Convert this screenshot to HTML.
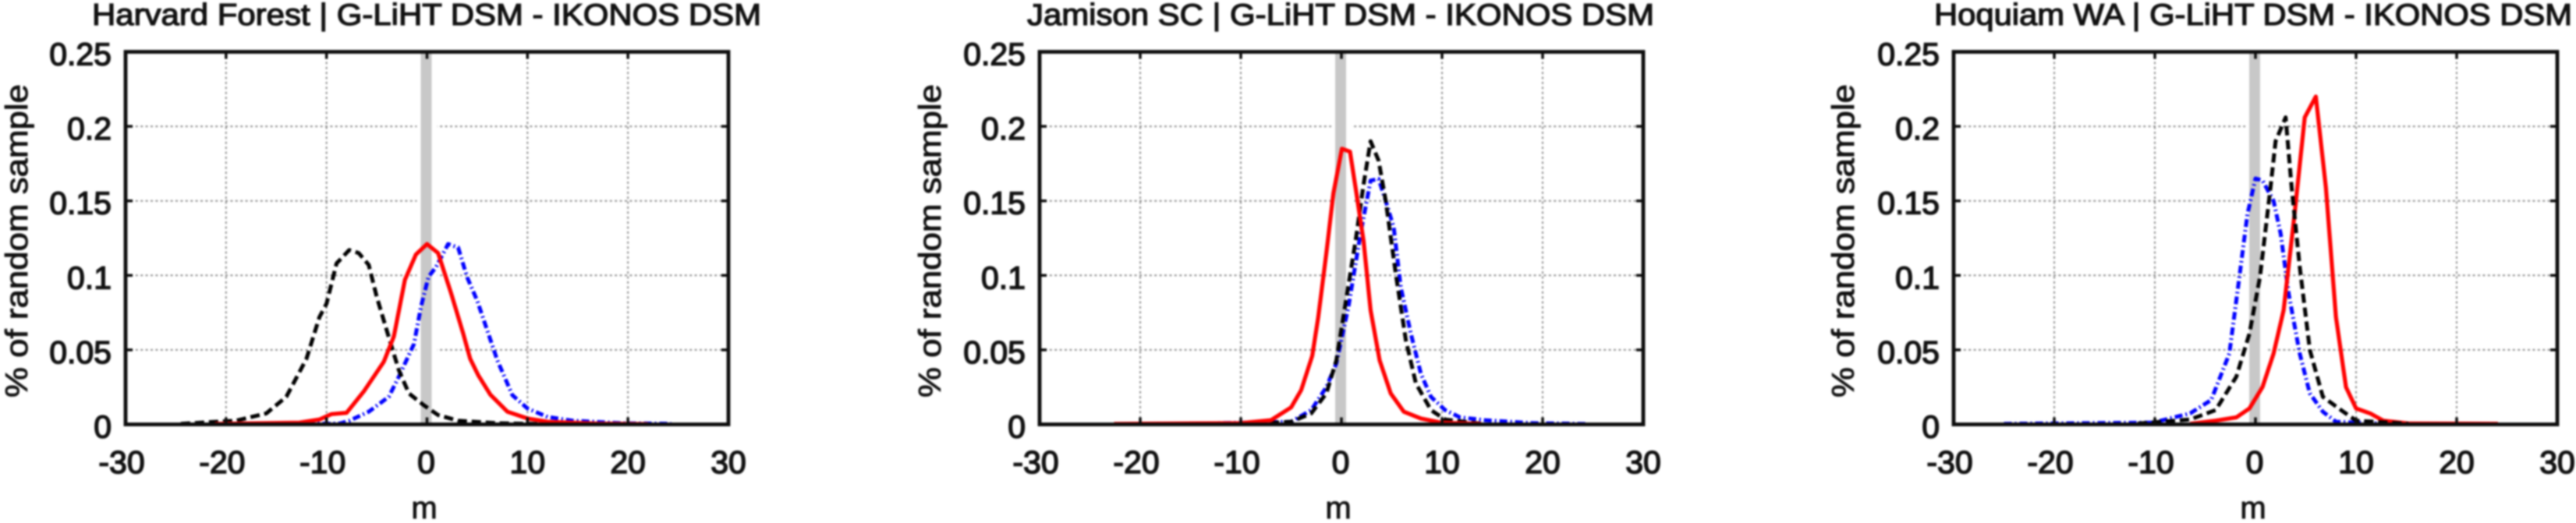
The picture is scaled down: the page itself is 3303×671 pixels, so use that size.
<!DOCTYPE html>
<html lang="en">
<head>
<meta charset="utf-8">
<title>G-LiHT DSM - IKONOS DSM difference histograms</title>
<style>
html,body{margin:0;padding:0;background:#fff;width:3303px;height:671px;overflow:hidden}
svg{display:block;filter:blur(1px)}
text{font-family:"Liberation Sans",sans-serif;fill:#111}
.title{font-size:39px;stroke:#111;stroke-width:1.3px}
.tick{font-size:41px;stroke:#111;stroke-width:1.5px}
.axis-label{font-size:40px;stroke:#111;stroke-width:.9px;white-space:pre}
</style>
</head>
<body>
<svg id="chart" xmlns="http://www.w3.org/2000/svg" width="3303" height="671" viewBox="0 0 3303 671">
  <rect x="0" y="0" width="3303" height="671" fill="#fff"/>

  <g id="panel-harvard">
    <text class="title" x="118" y="32" textLength="858" lengthAdjust="spacingAndGlyphs">Harvard Forest | G-LiHT DSM - IKONOS DSM</text>
    <text class="axis-label" transform="translate(35,510) rotate(-90)" textLength="402" lengthAdjust="spacingAndGlyphs">% of random sample</text>
    <text class="axis-label" x="544" y="665" text-anchor="middle">m</text>
  </g>

  <g id="panel-jamison">
    <text class="title" x="1317" y="32" textLength="804" lengthAdjust="spacingAndGlyphs">Jamison SC | G-LiHT DSM - IKONOS DSM</text>
    <text class="axis-label" transform="translate(1206,510) rotate(-90)" textLength="402" lengthAdjust="spacingAndGlyphs">% of random sample</text>
    <text class="axis-label" x="1716" y="665" text-anchor="middle">m</text>
  </g>

  <g id="panel-hoquiam">
    <text class="title" x="2480" y="32" textLength="818" lengthAdjust="spacingAndGlyphs">Hoquiam WA | G-LiHT DSM - IKONOS DSM</text>
    <text class="axis-label" transform="translate(2377,510) rotate(-90)" textLength="402" lengthAdjust="spacingAndGlyphs">% of random sample</text>
    <text class="axis-label" x="2889" y="665" text-anchor="middle">m</text>
  </g>
</svg>

<script>
// Axis data
const xTicks = [-30, -20, -10, 0, 10, 20, 30];
const xTickLabels = ["-30", "-20", "-10", "0", "10", "20", "30"];
const yTicks = [0, 0.05, 0.1, 0.15, 0.2, 0.25];
const yTickLabels = ["0", "0.05", "0.1", "0.15", "0.2", "0.25"];
const zeroBandLow = -0.54;
const zeroBandHigh = 0.54;

// Harvard Forest series
const harvardRedX = [-21.1,-12.7,-10.7,-9.5,-8,-6.3,-4.3,-3.3,-2.2,-1.1,0,1.1,2.4,3.6,4.3,5.1,6.3,8,10,12,17,22];
const harvardRedY = [.0003,.0012,.0033,.0069,.0078,.022,.042,.059,.097,.114,.121,.115,.088,.061,.044,.033,.020,.0085,.004,.0018,.0005,.0002];
const harvardBlackX = [-24.5,-19,-16,-14,-12,-10.7,-10,-9,-7.75,-6.8,-5.8,-5,-3.8,-2.8,-1.8,-.35,1.1,3.1,7,12];
const harvardBlackY = [.0004,.0025,.0074,.0185,.044,.072,.081,.108,.117,.115,.107,.0855,.0585,.0364,.0208,.013,.0063,.0025,.0008,.0002];
const harvardBlueX = [-16.6,-8.7,-7.7,-5.8,-3.8,-2.8,-1.3,-.6,.15,.9,2.1,3.1,4,5,6,7,8.5,10,12,14.5,19.4,24.3];
const harvardBlueY = [.0003,.0006,.0025,.0085,.0185,.032,.054,.079,.099,.1056,.121,.1187,.0987,.083,.063,.043,.0196,.0107,.005,.0025,.0008,.0004];

// Jamison SC series
const jamisonRedX = [-22.6,-10,-7,-5,-4,-2.9,-2.3,-1.5,-.8,.05,.85,1.4,2.2,2.9,3.8,4.9,6.2,7.9,9.9,13.9];
const jamisonRedY = [.0003,.0009,.0028,.0114,.023,.046,.072,.115,.155,.185,.183,.159,.123,.0766,.043,.0208,.0085,.004,.0012,.0003];
const jamisonBlackX = [-8.5,-5,-3,-1.5,-.5,.45,1.4,2.2,2.9,3.7,4.4,5.4,6.4,7.4,8.9,10.3,13.8];
const jamisonBlackY = [.0003,.0018,.0074,.0208,.043,.083,.123,.161,.19,.177,.15,.101,.0565,.0275,.0096,.0033,.0006];
const jamisonBlueX = [-16.4,-5,-3,-1.5,-.5,.7,1.9,2.9,3.7,4.4,5.2,5.9,6.9,7.9,8.9,10.3,11.8,14.3,18.8,24.5];
const jamisonBlueY = [.0003,.0018,.0096,.025,.041,.079,.128,.1636,.1647,.15,.132,.092,.061,.034,.0185,.0096,.0047,.0028,.0009,.0003];

// Hoquiam WA series
const hoquiamRedX = [-6.5,-3.95,-1.9,-.6,.7,1.8,2.8,3.85,4.9,6,7,8,9,10,11.4,12.7,15.3,24.1];
const hoquiamRedY = [.0004,.0025,.0047,.0107,.025,.0475,.0766,.139,.206,.22,.159,.072,.025,.0107,.0074,.0025,.0006,.0004];
const hoquiamBlackX = [-11.7,-6.5,-3.95,-1.9,-.6,.45,1.5,2,3,3.6,4.4,5.4,6.7,8.5,10,15.2];
const hoquiamBlackY = [.0006,.0033,.0096,.032,.061,.099,.159,.19,.206,.159,.1056,.05,.0185,.0096,.0025,.0004];
const hoquiamBlueX = [-25,-10.2,-6.5,-4.4,-2.6,-1.6,-.8,0,.7,1.8,2.5,3.3,4.4,5.4,6.7,8,12.7,22.5];
const hoquiamBlueY = [.0004,.0012,.0074,.0163,.0475,.099,.141,.165,.1637,.15,.128,.0877,.0475,.0208,.0085,.0018,.0006,.0004];

const SVGNS = 'http://www.w3.org/2000/svg';
const plotTop = 66.5;
const plotBottom = 544.5;
const xMin = -30, xMax = 30, yMin = 0, yMax = 0.25;

function shape(parent, tag, attrs) {
  const el = document.createElementNS(SVGNS, tag);
  for (const k in attrs) el.setAttribute(k, attrs[k]);
  parent.appendChild(el);
  return el;
}

function drawPanel(groupId, left, right, tickRight, slug, series) {
  const group = document.getElementById(groupId);
  const xScale = v => left + (v - xMin) / (xMax - xMin) * (right - left);
  const yScale = v => plotBottom - (v - yMin) / (yMax - yMin) * (plotBottom - plotTop);

  // grid
  yTicks.forEach(t => {
    if (t === yMin || t === yMax) return;
    const g = shape(group, 'line', {x1: left, x2: right, y1: yScale(t), y2: yScale(t), stroke: '#8f8f8f', 'stroke-width': 2, 'stroke-dasharray': '3 3.4'});
    
    
  });
  xTicks.forEach(t => {
    if (t === xMin || t === xMax || t === 0) return;
    const g = shape(group, 'line', {x1: xScale(t), x2: xScale(t), y1: plotTop, y2: plotBottom, stroke: '#8f8f8f', 'stroke-width': 2, 'stroke-dasharray': '3 3.4'});
    
    
  });

  // zero band with the white halo that interrupts gridlines
  const halo = shape(group, 'rect', {x: xScale(zeroBandLow) - 6, width: xScale(zeroBandHigh) - xScale(zeroBandLow) + 12, y: plotTop, height: plotBottom - plotTop, fill: '#fff'});
  
  
  const band = shape(group, 'rect', {x: xScale(zeroBandLow) - 1, width: xScale(zeroBandHigh) - xScale(zeroBandLow), y: plotTop, height: plotBottom - plotTop + 2, fill: '#c8c8c8'});
  
  

  // series
  series.forEach(s => {
    const d = s.xs.map((x, i) => (i ? 'L' : 'M') + xScale(x).toFixed(1) + ' ' + yScale(s.ys[i]).toFixed(1)).join(' ');
    const p = shape(group, 'path', {d: d, fill: 'none', stroke: s.color, 'stroke-width': s.width, 'stroke-dasharray': s.dash, 'stroke-linejoin': 'round'});
    
    
  });

  // frame
  const frame = shape(group, 'rect', {x: left, y: plotTop, width: right - left, height: plotBottom - plotTop, fill: 'none', stroke: '#0c0c0c', 'stroke-width': 4.8});
  
  

  // x ticks and labels
  xTicks.forEach((t, i) => {
    const x = xScale(t);
    if (t !== xMin && t !== xMax) {
      const a = shape(group, 'line', {x1: x, x2: x, y1: plotBottom, y2: plotBottom - 9, stroke: '#0c0c0c', 'stroke-width': 3.5});
      
      
      const b = shape(group, 'line', {x1: x, x2: x, y1: plotTop, y2: plotTop + 9, stroke: '#0c0c0c', 'stroke-width': 3.5});
      
      
    }
    const label = shape(group, 'text', {class: 'tick', x: x + (t < 0 ? -5 : (t === 0 ? -1 : 0)), y: 607, 'text-anchor': 'middle'});
    label.textContent = xTickLabels[i];
    
    
  });

  // y ticks and labels
  yTicks.forEach((t, i) => {
    const y = yScale(t);
    if (t !== yMin && t !== yMax) {
      const a = shape(group, 'line', {x1: left, x2: left + 9, y1: y, y2: y, stroke: '#0c0c0c', 'stroke-width': 3.5});
      
      
      const b = shape(group, 'line', {x1: right, x2: right - 9, y1: y, y2: y, stroke: '#0c0c0c', 'stroke-width': 3.5});
      
      
    }
    const label = shape(group, 'text', {class: 'tick', x: tickRight, y: y + 17, 'text-anchor': 'end'});
    label.textContent = yTickLabels[i];
    
    
  });
}

const blueDash = '10 4 2 4';
const blackDash = '12 6';

drawPanel('panel-harvard', 161, 934, 143, 'harvard-forest', [
  {label: 'blue', xs: harvardBlueX, ys: harvardBlueY, color: '#0000ff', width: 5, dash: blueDash},
  {label: 'black', xs: harvardBlackX, ys: harvardBlackY, color: '#000', width: 5, dash: blackDash},
  {label: 'red', xs: harvardRedX, ys: harvardRedY, color: '#ff0000', width: 5.2, dash: 'none'}
]);
drawPanel('panel-jamison', 1333, 2107, 1315, 'jamison-sc', [
  {label: 'blue', xs: jamisonBlueX, ys: jamisonBlueY, color: '#0000ff', width: 5, dash: blueDash},
  {label: 'black', xs: jamisonBlackX, ys: jamisonBlackY, color: '#000', width: 5, dash: blackDash},
  {label: 'red', xs: jamisonRedX, ys: jamisonRedY, color: '#ff0000', width: 5.2, dash: 'none'}
]);
drawPanel('panel-hoquiam', 2505, 3279, 2487, 'hoquiam-wa', [
  {label: 'blue', xs: hoquiamBlueX, ys: hoquiamBlueY, color: '#0000ff', width: 5, dash: blueDash},
  {label: 'red', xs: hoquiamRedX, ys: hoquiamRedY, color: '#ff0000', width: 5.2, dash: 'none'},
  {label: 'black', xs: hoquiamBlackX, ys: hoquiamBlackY, color: '#000', width: 5, dash: blackDash}
]);
</script>
</body>
</html>
